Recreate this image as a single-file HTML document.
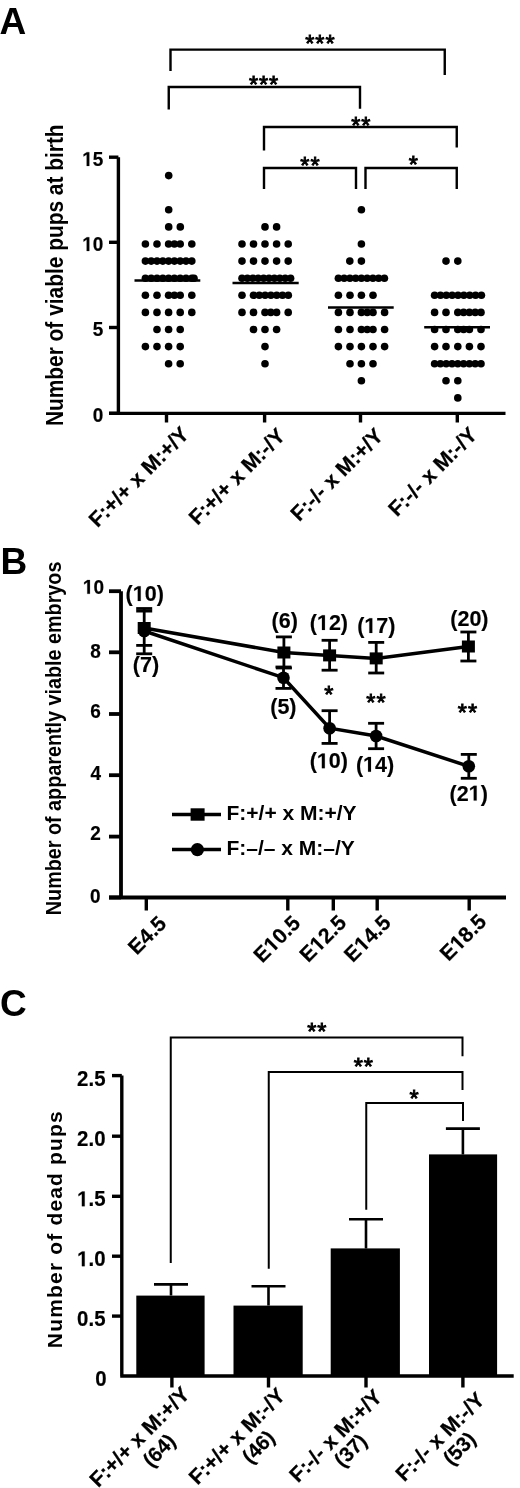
<!DOCTYPE html>
<html><head><meta charset="utf-8"><style>
html,body{margin:0;padding:0;background:#fff;}
svg{display:block;will-change:transform;filter:blur(0.4px);}
text{font-family:"Liberation Sans", sans-serif;font-weight:bold;fill:#000;stroke:#000;stroke-width:0.25px;}
.pl{font-size:37px;stroke-width:0;}
.st{font-size:23.5px;letter-spacing:0.9px;text-anchor:middle;font-weight:normal;stroke-width:0.9px;}
.tl{font-size:20px;stroke-width:0.2px;}
.tlc{font-size:21.5px;stroke-width:0.2px;}
.yl{font-size:19px;stroke-width:0;}
.xl{font-size:21.2px;}
.nl{font-size:21.5px;stroke-width:0.15px;}
.lg{font-size:21px;stroke-width:0;}
.br{fill:none;stroke:#000;stroke-width:2.4;}
.brc{fill:none;stroke:#000;stroke-width:2;}
.ax{fill:none;stroke:#000;stroke-width:3.4;}
.axb{fill:none;stroke:#000;stroke-width:3.8;}
.axc{fill:none;stroke:#000;stroke-width:3.4;}
.mn{fill:none;stroke:#000;stroke-width:2.5;}
.ln{fill:none;stroke:#000;stroke-width:3.5;}
.eb{fill:none;stroke:#000;stroke-width:2.8;}
.ebc{fill:none;stroke:#000;stroke-width:2.6;}
.one{fill:#000;stroke:#000;vector-effect:non-scaling-stroke;}
</style></head>
<body><svg width="520" height="1488" viewBox="0 0 520 1488">
<text id="pA" x="-0.4" y="33.7" class="pl">A</text>
<path d="M170.5 71V49.6H444.75V75" class="br"/>
<path d="M168.75 109.5V87H360V108.75" class="br"/>
<path d="M264 150.5V127H456.75V147.5" class="br"/>
<path d="M264 189V168H356V189" class="br"/>
<path d="M365.5 189V168H456.75V189" class="br"/>
<text id="sa0" x="320.4" y="51.9" class="st">***</text>
<text id="sa1" x="264" y="93.1" class="st">***</text>
<text id="sa2" x="361.25" y="134.25" class="st">**</text>
<text id="sa3" x="310.4" y="173.5" class="st">**</text>
<text id="sa4" x="413.75" y="173.25" class="st">*</text>
<path d="M118.4 157.2V413.4M109 413.4H505.5" class="ax"/>
<path d="M109 157.2H118.4" class="ax"/>
<path d="M109 242.3H118.4" class="ax"/>
<path d="M109 327.5H118.4" class="ax"/>
<path d="M109 413.3H118.4" class="ax"/>
<path d="M166.5 413.3V422.5" class="ax"/>
<path d="M264.6 413.3V422.5" class="ax"/>
<path d="M360.5 413.3V422.5" class="ax"/>
<path d="M457.3 413.3V422.5" class="ax"/>
<text id="one1" transform="translate(103.4,165.9) scale(0.95,1)" class="tl" text-anchor="end"> 5</text>
<text id="one2" transform="translate(103.4,251) scale(0.95,1)" class="tl" text-anchor="end"> 0</text>
<text transform="translate(103.4,336.2) scale(0.95,1)" class="tl" text-anchor="end">5</text>
<text transform="translate(103.4,422) scale(0.95,1)" class="tl" text-anchor="end">0</text>
<text id="ya" transform="translate(62.5,275.25) rotate(-90) scale(1,1.1)" class="yl" style="font-size:20.9px" text-anchor="middle">Number of viable pups at birth</text>
<g><circle cx="168.7" cy="175.6" r="3.8"/><circle cx="168.7" cy="209.8" r="3.8"/><circle cx="168.7" cy="226.9" r="3.8"/><circle cx="180.3" cy="226.9" r="3.8"/><circle cx="145.4" cy="244" r="3.8"/><circle cx="157" cy="244" r="3.8"/><circle cx="168.6" cy="244" r="3.8"/><circle cx="174.4" cy="244" r="3.8"/><circle cx="180.2" cy="244" r="3.8"/><circle cx="191.8" cy="244" r="3.8"/><circle cx="145.4" cy="261.1" r="3.8"/><circle cx="151.2" cy="261.1" r="3.8"/><circle cx="157" cy="261.1" r="3.8"/><circle cx="162.8" cy="261.1" r="3.8"/><circle cx="168.6" cy="261.1" r="3.8"/><circle cx="174.4" cy="261.1" r="3.8"/><circle cx="180.2" cy="261.1" r="3.8"/><circle cx="186" cy="261.1" r="3.8"/><circle cx="191.8" cy="261.1" r="3.8"/><circle cx="145.4" cy="278.2" r="3.8"/><circle cx="151.2" cy="278.2" r="3.8"/><circle cx="157" cy="278.2" r="3.8"/><circle cx="162.8" cy="278.2" r="3.8"/><circle cx="168.6" cy="278.2" r="3.8"/><circle cx="174.4" cy="278.2" r="3.8"/><circle cx="180.2" cy="278.2" r="3.8"/><circle cx="186" cy="278.2" r="3.8"/><circle cx="191.8" cy="278.2" r="3.8"/><circle cx="194" cy="278.2" r="3.8"/><circle cx="145.4" cy="295.3" r="3.8"/><circle cx="157" cy="295.3" r="3.8"/><circle cx="168.6" cy="295.3" r="3.8"/><circle cx="174.4" cy="295.3" r="3.8"/><circle cx="180.2" cy="295.3" r="3.8"/><circle cx="191.8" cy="295.3" r="3.8"/><circle cx="145.4" cy="312.4" r="3.8"/><circle cx="157" cy="312.4" r="3.8"/><circle cx="168.6" cy="312.4" r="3.8"/><circle cx="180.2" cy="312.4" r="3.8"/><circle cx="191.8" cy="312.4" r="3.8"/><circle cx="157" cy="329.5" r="3.8"/><circle cx="168.6" cy="329.5" r="3.8"/><circle cx="180.2" cy="329.5" r="3.8"/><circle cx="145.4" cy="346.6" r="3.8"/><circle cx="157" cy="346.6" r="3.8"/><circle cx="168.6" cy="346.6" r="3.8"/><circle cx="180.2" cy="346.6" r="3.8"/><circle cx="168.6" cy="363.7" r="3.8"/><circle cx="180.2" cy="363.7" r="3.8"/><circle cx="265" cy="226.9" r="3.8"/><circle cx="276.6" cy="226.9" r="3.8"/><circle cx="242" cy="244" r="3.8"/><circle cx="253.5" cy="244" r="3.8"/><circle cx="265" cy="244" r="3.8"/><circle cx="276.6" cy="244" r="3.8"/><circle cx="288.2" cy="244" r="3.8"/><circle cx="242" cy="261.1" r="3.8"/><circle cx="253.5" cy="261.1" r="3.8"/><circle cx="265" cy="261.1" r="3.8"/><circle cx="276.6" cy="261.1" r="3.8"/><circle cx="288.2" cy="261.1" r="3.8"/><circle cx="242" cy="278.2" r="3.8"/><circle cx="247.4" cy="278.2" r="3.8"/><circle cx="252.8" cy="278.2" r="3.8"/><circle cx="258.2" cy="278.2" r="3.8"/><circle cx="263.6" cy="278.2" r="3.8"/><circle cx="269" cy="278.2" r="3.8"/><circle cx="274.4" cy="278.2" r="3.8"/><circle cx="279.8" cy="278.2" r="3.8"/><circle cx="285.2" cy="278.2" r="3.8"/><circle cx="290.6" cy="278.2" r="3.8"/><circle cx="242" cy="295.3" r="3.8"/><circle cx="253.5" cy="295.3" r="3.8"/><circle cx="259.3" cy="295.3" r="3.8"/><circle cx="265.1" cy="295.3" r="3.8"/><circle cx="270.9" cy="295.3" r="3.8"/><circle cx="276.7" cy="295.3" r="3.8"/><circle cx="282.5" cy="295.3" r="3.8"/><circle cx="288.3" cy="295.3" r="3.8"/><circle cx="242" cy="312.4" r="3.8"/><circle cx="253.5" cy="312.4" r="3.8"/><circle cx="265" cy="312.4" r="3.8"/><circle cx="270.8" cy="312.4" r="3.8"/><circle cx="276.6" cy="312.4" r="3.8"/><circle cx="288.2" cy="312.4" r="3.8"/><circle cx="253.5" cy="329.5" r="3.8"/><circle cx="265" cy="329.5" r="3.8"/><circle cx="276.6" cy="329.5" r="3.8"/><circle cx="265" cy="346.6" r="3.8"/><circle cx="265" cy="363.7" r="3.8"/><circle cx="361.4" cy="209.8" r="3.8"/><circle cx="361.4" cy="244" r="3.8"/><circle cx="349.8" cy="261.1" r="3.8"/><circle cx="361.4" cy="261.1" r="3.8"/><circle cx="338.4" cy="278.2" r="3.8"/><circle cx="344.15" cy="278.2" r="3.8"/><circle cx="349.9" cy="278.2" r="3.8"/><circle cx="355.65" cy="278.2" r="3.8"/><circle cx="361.4" cy="278.2" r="3.8"/><circle cx="367.15" cy="278.2" r="3.8"/><circle cx="372.9" cy="278.2" r="3.8"/><circle cx="378.65" cy="278.2" r="3.8"/><circle cx="384.4" cy="278.2" r="3.8"/><circle cx="338.4" cy="295.3" r="3.8"/><circle cx="350" cy="295.3" r="3.8"/><circle cx="361.4" cy="295.3" r="3.8"/><circle cx="373" cy="295.3" r="3.8"/><circle cx="338.4" cy="312.4" r="3.8"/><circle cx="350" cy="312.4" r="3.8"/><circle cx="361.4" cy="312.4" r="3.8"/><circle cx="367.2" cy="312.4" r="3.8"/><circle cx="373" cy="312.4" r="3.8"/><circle cx="384.6" cy="312.4" r="3.8"/><circle cx="338.4" cy="329.5" r="3.8"/><circle cx="350" cy="329.5" r="3.8"/><circle cx="361.4" cy="329.5" r="3.8"/><circle cx="367.2" cy="329.5" r="3.8"/><circle cx="373" cy="329.5" r="3.8"/><circle cx="384.6" cy="329.5" r="3.8"/><circle cx="338.4" cy="346.6" r="3.8"/><circle cx="350" cy="346.6" r="3.8"/><circle cx="361.4" cy="346.6" r="3.8"/><circle cx="373" cy="346.6" r="3.8"/><circle cx="384.6" cy="346.6" r="3.8"/><circle cx="350" cy="363.7" r="3.8"/><circle cx="361.4" cy="363.7" r="3.8"/><circle cx="373" cy="363.7" r="3.8"/><circle cx="361.4" cy="380.8" r="3.8"/><circle cx="446" cy="261.1" r="3.8"/><circle cx="457.8" cy="261.1" r="3.8"/><circle cx="434.6" cy="295.3" r="3.8"/><circle cx="440.45" cy="295.3" r="3.8"/><circle cx="446.3" cy="295.3" r="3.8"/><circle cx="452.15" cy="295.3" r="3.8"/><circle cx="458" cy="295.3" r="3.8"/><circle cx="463.85" cy="295.3" r="3.8"/><circle cx="469.7" cy="295.3" r="3.8"/><circle cx="475.55" cy="295.3" r="3.8"/><circle cx="481.4" cy="295.3" r="3.8"/><circle cx="434.6" cy="312.4" r="3.8"/><circle cx="446" cy="312.4" r="3.8"/><circle cx="457.8" cy="312.4" r="3.8"/><circle cx="463.6" cy="312.4" r="3.8"/><circle cx="469.4" cy="312.4" r="3.8"/><circle cx="475.2" cy="312.4" r="3.8"/><circle cx="481" cy="312.4" r="3.8"/><circle cx="434.6" cy="329.5" r="3.8"/><circle cx="446" cy="329.5" r="3.8"/><circle cx="457.8" cy="329.5" r="3.8"/><circle cx="463.6" cy="329.5" r="3.8"/><circle cx="469.4" cy="329.5" r="3.8"/><circle cx="481" cy="329.5" r="3.8"/><circle cx="434.6" cy="346.6" r="3.8"/><circle cx="446" cy="346.6" r="3.8"/><circle cx="457.8" cy="346.6" r="3.8"/><circle cx="469.4" cy="346.6" r="3.8"/><circle cx="481" cy="346.6" r="3.8"/><circle cx="434.6" cy="363.7" r="3.8"/><circle cx="440.4" cy="363.7" r="3.8"/><circle cx="446.2" cy="363.7" r="3.8"/><circle cx="452" cy="363.7" r="3.8"/><circle cx="457.8" cy="363.7" r="3.8"/><circle cx="463.6" cy="363.7" r="3.8"/><circle cx="469.4" cy="363.7" r="3.8"/><circle cx="475.2" cy="363.7" r="3.8"/><circle cx="481" cy="363.7" r="3.8"/><circle cx="446" cy="380.8" r="3.8"/><circle cx="457.8" cy="380.8" r="3.8"/><circle cx="457.8" cy="397.9" r="3.8"/></g>
<path d="M134.5 280.6H200.3" class="mn"/>
<path d="M232.5 283H298.7" class="mn"/>
<path d="M328 307.5H393.7" class="mn"/>
<path d="M424.2 327.3H490" class="mn"/>
<text id="xa0" transform="translate(190.3,435.4) rotate(-45)" class="xl" text-anchor="end">F:+/+ x M:+/Y</text>
<text id="xa1" transform="translate(286.5,437) rotate(-45)" class="xl" text-anchor="end">F:+/+ x M:-/Y</text>
<text id="xa2" transform="translate(384.6,437) rotate(-45)" class="xl" text-anchor="end">F:-/- x M:+/Y</text>
<text id="xa3" transform="translate(478.5,436) rotate(-45)" class="xl" text-anchor="end">F:-/- x M:-/Y</text>
<text id="pB" x="0.5" y="573.5" class="pl">B</text>
<path d="M121 591.2V897.5M109 897.5H506" class="axb"/>
<path d="M109 591.2H121" class="axb"/>
<path d="M109 652.3H121" class="axb"/>
<path d="M109 714H121" class="axb"/>
<path d="M109 775.2H121" class="axb"/>
<path d="M109 836.6H121" class="axb"/>
<path d="M109 897.5H121" class="axb"/>
<text id="one3" transform="translate(104,593.8) scale(0.95,1)" class="tl" text-anchor="end"> 0</text>
<text transform="translate(100.9,657.8) scale(0.95,1)" class="tl" text-anchor="end">8</text>
<text transform="translate(100.9,717.8) scale(0.95,1)" class="tl" text-anchor="end">6</text>
<text transform="translate(101.2,779.9) scale(0.95,1)" class="tl" text-anchor="end">4</text>
<text transform="translate(100.9,840.4) scale(0.95,1)" class="tl" text-anchor="end">2</text>
<text transform="translate(100.6,902.8) scale(0.95,1)" class="tl" text-anchor="end">0</text>
<path d="M146.3 897.5V910.5" class="ax"/>
<path d="M287.8 897.5V910.5" class="ax"/>
<path d="M333.3 897.5V910.5" class="ax"/>
<path d="M377.2 897.5V910.5" class="ax"/>
<path d="M469.2 897.5V910.5" class="ax"/>
<text id="xb0" transform="translate(167.7,924.8) rotate(-45)" class="xl" text-anchor="end">E4.5</text>
<text id="xb1" transform="translate(301.5,924.5) rotate(-45)" class="xl" text-anchor="end">E 0.5</text>
<text id="xb2" transform="translate(347.5,924) rotate(-45)" class="xl" text-anchor="end">E 2.5</text>
<text id="xb3" transform="translate(392,924) rotate(-45)" class="xl" text-anchor="end">E 4.5</text>
<text id="xb4" transform="translate(487.7,922.8) rotate(-45)" class="xl" text-anchor="end">E 8.5</text>
<text id="yb" transform="translate(60.6,738.4) rotate(-90) scale(1,1.14)" class="yl" style="font-size:19.77px" text-anchor="middle">Number of apparently viable embryos</text>
<path d="M144.2 631 L283.5 677.7 L329.6 728.2 L376.1 736 L468.8 766.3" class="ln"/>
<path d="M144.2 628 L283.9 652.5 L329.6 655.4 L376.2 658.4 L468.4 646.5" class="ln"/>
<path d="M144.2 608.5V653.8" class="eb"/>
<path d="M136.2 608.5H152.2" class="eb"/>
<path d="M136.2 611.1H152.2" class="eb"/>
<path d="M136.2 645.4H152.2" class="eb"/>
<path d="M136.2 653.8H152.2" class="eb"/>
<path d="M283.9 636.9V668" class="eb"/>
<path d="M275.9 636.9H291.9" class="eb"/>
<path d="M275.9 668H291.9" class="eb"/>
<path d="M283.5 667V688.4" class="eb"/>
<path d="M275.5 667H291.5" class="eb"/>
<path d="M275.5 688.4H291.5" class="eb"/>
<path d="M329.6 640.3V670.2" class="eb"/>
<path d="M321.6 640.3H337.6" class="eb"/>
<path d="M321.6 670.2H337.6" class="eb"/>
<path d="M329.6 710.7V743.4" class="eb"/>
<path d="M321.6 710.7H337.6" class="eb"/>
<path d="M321.6 743.4H337.6" class="eb"/>
<path d="M376.2 642.4V673" class="eb"/>
<path d="M368.2 642.4H384.2" class="eb"/>
<path d="M368.2 673H384.2" class="eb"/>
<path d="M376.1 723.3V748.7" class="eb"/>
<path d="M368.1 723.3H384.1" class="eb"/>
<path d="M368.1 748.7H384.1" class="eb"/>
<path d="M468.4 632V661" class="eb"/>
<path d="M460.4 632H476.4" class="eb"/>
<path d="M460.4 661H476.4" class="eb"/>
<path d="M468.8 754.4V778.3" class="eb"/>
<path d="M460.8 754.4H476.8" class="eb"/>
<path d="M460.8 778.3H476.8" class="eb"/>
<rect x="137.7" y="622" width="13" height="12"/>
<rect x="277.4" y="646.5" width="13" height="12"/>
<rect x="323.1" y="649.4" width="13" height="12"/>
<rect x="369.7" y="652.4" width="13" height="12"/>
<rect x="461.9" y="640.5" width="13" height="12"/>
<circle cx="144.2" cy="631" r="6.3"/>
<circle cx="283.5" cy="677.7" r="6.3"/>
<circle cx="329.6" cy="728.2" r="6.3"/>
<circle cx="376.1" cy="736" r="6.3"/>
<circle cx="468.8" cy="766.3" r="6.3"/>
<text id="nb0" x="144.7" y="601" class="nl" text-anchor="middle">( 0)</text>
<text id="nb1" x="146" y="672" class="nl" text-anchor="middle">(7)</text>
<text id="nb2" x="284.7" y="628" class="nl" text-anchor="middle">(6)</text>
<text id="nb3" x="328.9" y="630" class="nl" text-anchor="middle">( 2)</text>
<text id="nb4" x="376.3" y="633" class="nl" text-anchor="middle">( 7)</text>
<text id="nb5" x="469.4" y="625.7" class="nl" text-anchor="middle">(20)</text>
<text id="nb6" x="283.4" y="713.5" class="nl" text-anchor="middle">(5)</text>
<text id="nb7" x="328.8" y="768.3" class="nl" text-anchor="middle">( 0)</text>
<text id="nb8" x="375" y="771.7" class="nl" text-anchor="middle">( 4)</text>
<text id="nb9" x="468.7" y="800.6" class="nl" text-anchor="middle">(2 )</text>
<text id="sb0" x="329.2" y="703.4" class="st">*</text>
<text id="sb1" x="376.4" y="711.2" class="st">**</text>
<text id="sb2" x="467.9" y="720.9" class="st">**</text>
<path d="M172 814.5H221M172 849.5H221" class="ln"/>
<rect x="190.6" y="808.3" width="14" height="12.4"/>
<circle cx="197.4" cy="849.7" r="6.6"/>
<text x="226.5" y="820" class="lg">F:+/+ x M:+/Y</text>
<text x="226.5" y="855" class="lg">F:–/– x M:–/Y</text>
<text id="pC" x="0" y="1015.7" class="pl">C</text>
<path d="M170.75 1263V1037.5H462.5V1056.25" class="brc"/>
<path d="M268.75 1268.7V1072H462.5V1090" class="brc"/>
<path d="M366.25 1209.7V1103H463V1121" class="brc"/>
<text id="sc0" x="317.25" y="1040.3" class="st">**</text>
<text id="sc1" x="363.75" y="1075.3" class="st">**</text>
<text id="sc2" x="414.4" y="1106.5" class="st">*</text>
<rect x="136.3" y="1295.6" width="68.3" height="80.4"/>
<path d="M171 1295.6V1284.4M154 1284.4H188" class="ebc"/>
<rect x="233.5" y="1305.6" width="69.2" height="70.4"/>
<path d="M268.5 1305.6V1286.3M251.5 1286.3H285.5" class="ebc"/>
<rect x="330.7" y="1248.4" width="69.2" height="127.6"/>
<path d="M366 1248.4V1219.2M349 1219.2H383" class="ebc"/>
<rect x="429" y="1154.4" width="68.1" height="221.6"/>
<path d="M462.9 1154.4V1128.6M445.9 1128.6H479.9" class="ebc"/>
<path d="M121.8 1075.6V1376M120.2 1376H513.7" class="axc"/>
<path d="M112 1075.6H121.8" class="axc"/>
<path d="M112 1136.2H121.8" class="axc"/>
<path d="M112 1196.3H121.8" class="axc"/>
<path d="M112 1256.2H121.8" class="axc"/>
<path d="M112 1316.1H121.8" class="axc"/>
<text transform="translate(105.5,1085.6) scale(0.95,1)" class="tlc" text-anchor="end">2.5</text>
<text transform="translate(105.5,1146.2) scale(0.95,1)" class="tlc" text-anchor="end">2.0</text>
<text id="one4" transform="translate(105.5,1206.3) scale(0.95,1)" class="tlc" text-anchor="end"> .5</text>
<text id="one5" transform="translate(105.5,1266.2) scale(0.95,1)" class="tlc" text-anchor="end"> .0</text>
<text transform="translate(105.5,1326.1) scale(0.95,1)" class="tlc" text-anchor="end">0.5</text>
<text transform="translate(106.5,1386) scale(0.95,1)" class="tlc" text-anchor="end">0</text>
<path d="M171.9 1376V1387.5" class="axc"/>
<path d="M268.5 1376V1387.5" class="axc"/>
<path d="M366 1376V1387.5" class="axc"/>
<path d="M462.9 1376V1387.5" class="axc"/>
<text id="yc" transform="translate(61.6,1229.1) rotate(-90)" class="yl" style="font-size:21px;letter-spacing:1.17px" text-anchor="middle">Number of dead pups</text>
<text id="xc0" transform="translate(191,1395.5) rotate(-45)" class="xl" text-anchor="end">F:+/+ x M:+/Y</text>
<text id="nc0" transform="translate(164.02,1455.37) rotate(-45)" class="xl" style="font-size:20.5px" text-anchor="middle">(64)</text>
<text id="xc1" transform="translate(286.5,1396.8) rotate(-45)" class="xl" text-anchor="end">F:+/+ x M:-/Y</text>
<text id="nc1" transform="translate(263.27,1451.77) rotate(-45)" class="xl" style="font-size:20.5px" text-anchor="middle">(46)</text>
<text id="xc2" transform="translate(383.4,1398.2) rotate(-45)" class="xl" text-anchor="end">F:-/- x M:+/Y</text>
<text id="nc2" transform="translate(355.47,1455.27) rotate(-45)" class="xl" style="font-size:20.5px" text-anchor="middle">(37)</text>
<text id="xc3" transform="translate(485.9,1401) rotate(-45)" class="xl" text-anchor="end">F:-/- x M:-/Y</text>
<text id="nc3" transform="translate(464.27,1453.37) rotate(-45)" class="xl" style="font-size:20.5px" text-anchor="middle">(53)</text>
<path transform="translate(103.4,165.9) scale(0.95,1) translate(-22.25,0.00) scale(0.00977,-0.00977)" d="M478 0V1170L140 959V1180L493 1409H759V0Z" style="stroke-width:0.2px" class="one"/>
<path transform="translate(103.4,251) scale(0.95,1) translate(-22.25,0.00) scale(0.00977,-0.00977)" d="M478 0V1170L140 959V1180L493 1409H759V0Z" style="stroke-width:0.2px" class="one"/>
<path transform="translate(104,593.8) scale(0.95,1) translate(-22.25,0.00) scale(0.00977,-0.00977)" d="M478 0V1170L140 959V1180L493 1409H759V0Z" style="stroke-width:0.2px" class="one"/>
<path transform="translate(301.5,924.5) rotate(-45) translate(-41.25,0.00) scale(0.01035,-0.01035)" d="M478 0V1170L140 959V1180L493 1409H759V0Z" style="stroke-width:0.25px" class="one"/>
<path transform="translate(347.5,924) rotate(-45) translate(-41.25,0.00) scale(0.01035,-0.01035)" d="M478 0V1170L140 959V1180L493 1409H759V0Z" style="stroke-width:0.25px" class="one"/>
<path transform="translate(392,924) rotate(-45) translate(-41.25,0.00) scale(0.01035,-0.01035)" d="M478 0V1170L140 959V1180L493 1409H759V0Z" style="stroke-width:0.25px" class="one"/>
<path transform="translate(487.7,922.8) rotate(-45) translate(-41.25,0.00) scale(0.01035,-0.01035)" d="M478 0V1170L140 959V1180L493 1409H759V0Z" style="stroke-width:0.25px" class="one"/>
<path transform=" translate(132.74,601.00) scale(0.01050,-0.01050)" d="M478 0V1170L140 959V1180L493 1409H759V0Z" style="stroke-width:0.15px" class="one"/>
<path transform=" translate(316.94,630.00) scale(0.01050,-0.01050)" d="M478 0V1170L140 959V1180L493 1409H759V0Z" style="stroke-width:0.15px" class="one"/>
<path transform=" translate(364.34,633.00) scale(0.01050,-0.01050)" d="M478 0V1170L140 959V1180L493 1409H759V0Z" style="stroke-width:0.15px" class="one"/>
<path transform=" translate(316.84,768.30) scale(0.01050,-0.01050)" d="M478 0V1170L140 959V1180L493 1409H759V0Z" style="stroke-width:0.15px" class="one"/>
<path transform=" translate(363.04,771.70) scale(0.01050,-0.01050)" d="M478 0V1170L140 959V1180L493 1409H759V0Z" style="stroke-width:0.15px" class="one"/>
<path transform=" translate(468.69,800.60) scale(0.01050,-0.01050)" d="M478 0V1170L140 959V1180L493 1409H759V0Z" style="stroke-width:0.15px" class="one"/>
<path transform="translate(105.5,1206.3) scale(0.95,1) translate(-29.88,0.00) scale(0.01050,-0.01050)" d="M478 0V1170L140 959V1180L493 1409H759V0Z" style="stroke-width:0.2px" class="one"/>
<path transform="translate(105.5,1266.2) scale(0.95,1) translate(-29.88,0.00) scale(0.01050,-0.01050)" d="M478 0V1170L140 959V1180L493 1409H759V0Z" style="stroke-width:0.2px" class="one"/>
</svg></body></html>
